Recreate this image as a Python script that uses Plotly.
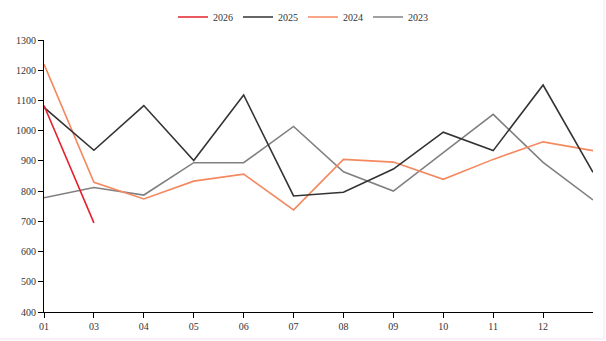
import plotly.graph_objects as go

x_labels = ["01", "03", "04", "05", "06", "07", "08", "09", "10", "11", "12"]
x_pos = list(range(12))

s2026 = [1083, 695]
s2025 = [1077, 935, 1083, 901, 1118, 784, 796, 873, 995, 934, 1151, 862]
s2024 = [1220, 829, 774, 833, 856, 738, 905, 896, 839, 905, 963, 934]
s2023 = [778, 812, 787, 894, 894, 1014, 864, 800, 927, 1054, 895, 771]

series = [
    ("2023", s2023, "#808080", 4),
    ("2024", s2024, "#F4895F", 3),
    ("2025", s2025, "#333333", 2),
    ("2026", s2026, "#E3202B", 1),
]

fig = go.Figure()
for name, vals, color, rank in series:
    fig.add_trace(go.Scatter(
        x=x_pos[:len(vals)], y=vals, name=name, mode="lines",
        line=dict(color=color, width=1.6), legendrank=rank,
    ))

# faint frame at right and bottom edges of the page
px = lambda v: (v - 44) / 549
py = lambda v: (312 - v) / 272
frame = "#F3E3F3"
fig.add_shape(type="line", xref="paper", yref="paper", x0=px(604), x1=px(604),
              y0=py(0), y1=py(339), line=dict(color=frame, width=1))
fig.add_shape(type="line", xref="paper", yref="paper", x0=px(0), x1=px(604),
              y0=py(339), y1=py(339), line=dict(color=frame, width=1))

fig.update_layout(
    width=606, height=341,
    margin=dict(l=44, r=13, t=40, b=29, autoexpand=False),
    paper_bgcolor="white", plot_bgcolor="white",
    font=dict(family="Liberation Serif", size=10, color="#333333"),
    showlegend=True,
    legend=dict(orientation="h", xref="container", x=0.5, xanchor="center",
                yref="container", y=1 - 17 / 341, yanchor="middle",
                font=dict(size=10), itemwidth=30),
    xaxis=dict(range=[0, 11], tickmode="array", tickvals=x_pos[:11], ticktext=x_labels,
               showgrid=False, zeroline=False, showline=True, linecolor="#000000", linewidth=1,
               ticks="outside", ticklen=5, tickcolor="#000000", tickfont=dict(size=10, color="#333333")),
    yaxis=dict(range=[400, 1300], tickmode="linear", tick0=400, dtick=100,
               showgrid=False, zeroline=False, showline=True, linecolor="#000000", linewidth=1,
               ticks="outside", ticklen=5, tickcolor="#000000", tickfont=dict(size=10, color="#333333")),
)

fig.write_html("out.html")
